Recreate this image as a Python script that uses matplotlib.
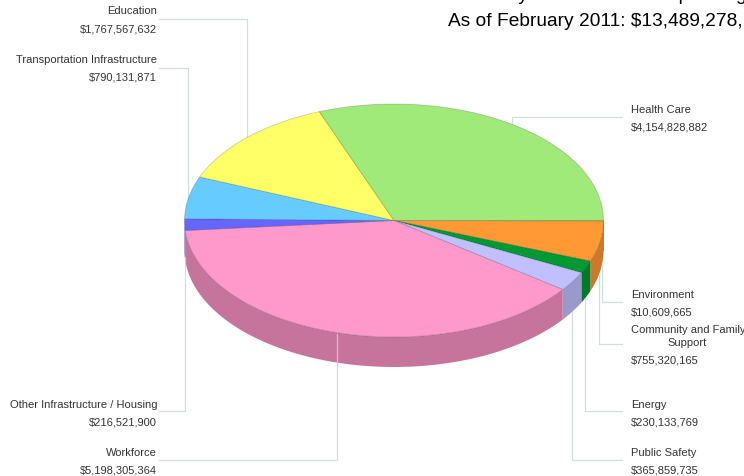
import numpy as np
import matplotlib
matplotlib.use('Agg')
import matplotlib.pyplot as plt
from matplotlib.patches import Wedge, Polygon
from matplotlib.transforms import Affine2D

plt.rcParams['font.family'] = ['Liberation Sans', 'DejaVu Sans']

# clockwise from east, same order as the chart
categories = ['Environment', 'Community and Family\nSupport', 'Energy', 'Public Safety', 'Workforce',
              'Other Infrastructure / Housing', 'Transportation Infrastructure', 'Education', 'Health Care']
values = [10609665, 755320165, 230133769, 365859735, 5198305364,
          216521900, 790131871, 1767567632, 4154828882]
colors = ['#99cc33', '#ff9933', '#009933', '#c0c0ff', '#ff99cc',
          '#6666ff', '#66ccff', '#ffff66', '#a0ea7a']
side_colors = ['#cc7a29', '#cc7a29', '#007a29', '#9999cc', '#c6749b',
               '#5252cc', '#52a3cc', '#cccc52', '#80bb62']
title_cut = 'Recovery Act Cumulative Spending'
title_line = 'As of February 2011: $13,489,278,'

cx, cy = 394, 221.5
rx, ry = 209.5, 116.5
depth = 30

# label x anchor, y of the name, y of the amount, leader corner
label_side = ['r', 'r', 'r', 'r', 'l', 'l', 'l', 'l', 'r']
label_name_y = [295, 337, 405, 453, 453, 405, 60, 11, 110]
label_amount_y = [313, 361, 423, 471, 471, 423, 78, 29, 128]
leader_y = [303, 345, 412, 461, 461, 412, 69, 20, 118]
leader_x = [602, 599, 585, 572, 337, 185, 188, 247, 512]
leader_end_y = [265, 276, 299, 313, 335, 258, 202, 140, 130]

fig = plt.figure(figsize=(7.44, 4.77), dpi=100)
ax = fig.add_axes([0, 0, 1, 1])
ax.set_xlim(0, 744)
ax.set_ylim(477, 0)
ax.axis('off')

fracs = np.array(values) / sum(values)
edges = np.concatenate([[0], np.cumsum(fracs)]) * 360

# rim, only the part facing us (screen y points down so angles run clockwise)
for i in range(len(values)):
    a0, a1 = edges[i], min(edges[i + 1], 180)
    if a0 >= 180:
        continue
    t = np.radians(np.linspace(a0, a1, 60))
    xs = cx + rx * np.cos(t)
    ys = cy + ry * np.sin(t)
    pts = np.r_[np.c_[xs, ys], np.c_[xs, ys + depth][::-1]]
    ax.add_patch(Polygon(pts, closed=True, fc=side_colors[i], ec='none', zorder=2))

# leaders sit over the rim but under the top face
for i in range(len(values)):
    x_end = 622 if label_side[i] == 'r' else 159
    ax.plot([x_end, leader_x[i], leader_x[i]], [leader_y[i], leader_y[i], leader_end_y[i]],
            color='#c4d8d6', lw=0.9, alpha=0.8, zorder=2.5)

# top of the pie
tr = Affine2D().scale(rx, ry).translate(cx, cy) + ax.transData
for i in range(len(values)):
    ax.add_patch(Wedge((0, 0), 1, edges[i], edges[i + 1], fc=colors[i], ec='#00000030', lw=0.6,
                       transform=tr, zorder=3))

for i, name in enumerate(categories):
    if label_side[i] == 'r':
        x_txt, ha = 631, 'left'
    else:
        x_txt, ha = 157, 'right'
    amount = '${:,}'.format(values[i])
    if '\n' in name:
        first, second = name.split('\n')
        ax.text(x_txt, label_name_y[i] - 7, first, ha=ha, va='center', fontsize=8, color='#333333')
        ax.text(x_txt + 56, label_name_y[i] + 6, second, ha='center', va='center', fontsize=8, color='#333333')
    else:
        ax.text(x_txt, label_name_y[i], name, ha=ha, va='center', fontsize=8, color='#333333')
    ax.text(x_txt, label_amount_y[i], amount, ha=ha, va='center', fontsize=8, color='#333333')

ax.text(447, 0, title_cut, ha='left', va='baseline', fontsize=13.8, color='black')
ax.text(448, 26, title_line, ha='left', va='baseline', fontsize=13.8, color='black')

fig.savefig('out.png', dpi=100)
